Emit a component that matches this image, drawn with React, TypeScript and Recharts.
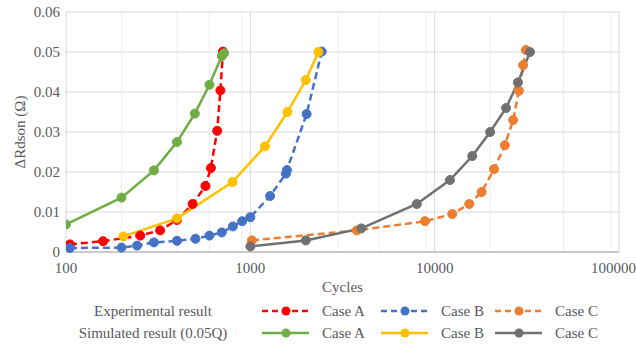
import React from "react";
import { CartesianGrid, Line, LineChart, XAxis, YAxis } from "recharts";

// cycles vs ΔRdson
const expA = [
  { x: 105, y: 0.0019 }, { x: 159, y: 0.0027 }, { x: 253, y: 0.0041 }, { x: 324, y: 0.0054 },
  { x: 400, y: 0.008 }, { x: 486, y: 0.012 }, { x: 571, y: 0.0165 }, { x: 611, y: 0.021 },
  { x: 661, y: 0.0303 }, { x: 688, y: 0.0404 }, { x: 710, y: 0.0501 },
];
const expB = [
  { x: 105, y: 0.001 }, { x: 200, y: 0.0011 }, { x: 243, y: 0.0016 }, { x: 300, y: 0.0024 },
  { x: 400, y: 0.0028 }, { x: 504, y: 0.0033 }, { x: 600, y: 0.0041 }, { x: 700, y: 0.0049 },
  { x: 804, y: 0.0064 }, { x: 903, y: 0.0077 }, { x: 1000, y: 0.0087 }, { x: 1280, y: 0.014 },
  { x: 1560, y: 0.0196 }, { x: 1580, y: 0.0205 }, { x: 2020, y: 0.0345 }, { x: 2440, y: 0.0501 },
];
const expC = [
  { x: 1020, y: 0.0029 }, { x: 3780, y: 0.0054 }, { x: 8860, y: 0.0077 }, { x: 12460, y: 0.0095 },
  { x: 15400, y: 0.012 }, { x: 17980, y: 0.015 }, { x: 21000, y: 0.0207 }, { x: 24040, y: 0.0267 },
  { x: 26670, y: 0.033 }, { x: 28640, y: 0.0403 }, { x: 30200, y: 0.0467 }, { x: 31260, y: 0.0505 },
];
const simA = [
  { x: 100, y: 0.0069 }, { x: 200, y: 0.0136 }, { x: 300, y: 0.0204 }, { x: 400, y: 0.0275 },
  { x: 500, y: 0.0346 }, { x: 600, y: 0.0418 }, { x: 700, y: 0.049 }, { x: 720, y: 0.0497 },
];
const simB = [
  { x: 205, y: 0.0039 }, { x: 400, y: 0.0084 }, { x: 800, y: 0.0175 }, { x: 1200, y: 0.0264 },
  { x: 1590, y: 0.035 }, { x: 2000, y: 0.043 }, { x: 2340, y: 0.05 },
];
const simC = [
  { x: 1000, y: 0.0014 }, { x: 2000, y: 0.0029 }, { x: 4000, y: 0.0059 }, { x: 8000, y: 0.012 },
  { x: 12100, y: 0.018 }, { x: 16000, y: 0.024 }, { x: 20000, y: 0.03 }, { x: 24400, y: 0.036 },
  { x: 28300, y: 0.0424 }, { x: 32900, y: 0.05 },
];

const xTicks = [100, 1000, 10000, 100000];
const xMinor = [200, 300, 400, 500, 600, 700, 800, 900, 2000, 3000, 4000, 5000, 6000, 7000, 8000, 9000,
  20000, 30000, 40000, 50000, 60000, 70000, 80000, 90000];
const yTicks = [0, 0.01, 0.02, 0.03, 0.04, 0.05, 0.06];

const caseNames = ["Case A", "Case B", "Case C"];
const rowLabels = ["Experimental result", "Simulated result (0.05Q)"];

const series = [
  { key: "expA", data: expA, color: "#ff0000", dashed: true },
  { key: "expB", data: expB, color: "#4472c4", dashed: true },
  { key: "expC", data: expC, color: "#ed7d31", dashed: true },
  { key: "simA", data: simA, color: "#70ad47", dashed: false },
  { key: "simB", data: simB, color: "#ffc000", dashed: false },
  { key: "simC", data: simC, color: "#707070", dashed: false },
];

const font = "'Liberation Serif', 'Times New Roman', serif";
const textColor = "#595959";
const dash = "7 4";

function LegendBlock() {
  const colX = [262, 381, 495];
  const rowY = [311, 333];
  return (
    <svg width={636} height={346} style={{ position: "absolute", left: 0, top: 0, pointerEvents: "none" }}>
      {rowLabels.map((label, r) => (
        <g key={label}>
          <text x={153} y={rowY[r] + 5} textAnchor="middle" fontSize={15} fill={textColor} fontFamily={font}>
            {label}
          </text>
          {series.slice(r * 3, r * 3 + 3).map((s, i) => (
            <g key={s.key}>
              <line x1={colX[i]} x2={colX[i] + 47} y1={rowY[r]} y2={rowY[r]} stroke={s.color}
                strokeWidth={2.5} strokeDasharray={s.dashed ? "6 4" : undefined} />
              <circle cx={colX[i] + 24} cy={rowY[r]} r={4.5} fill={s.color} />
              <text x={colX[i] + 60} y={rowY[r] + 5} fontSize={15} fill={textColor} fontFamily={font}>
                {caseNames[i]}
              </text>
            </g>
          ))}
        </g>
      ))}
    </svg>
  );
}

export default function App() {
  return (
    <div style={{ position: "absolute", left: 0, top: 0, width: 636, height: 346, background: "#fff" }}>
      <LineChart width={636} height={346} margin={{ top: 12, right: 17, left: 10, bottom: 54 }}
        style={{ fontFamily: font }}>
        <CartesianGrid horizontal={false} verticalValues={xMinor} stroke="#eeeeee" strokeWidth={1} />
        <CartesianGrid vertical={true} stroke="#d9d9d9" strokeWidth={1} />
        <XAxis type="number" dataKey="x" scale="log" domain={[100, 100000]} ticks={xTicks}
          allowDataOverflow height={40} tickLine={false} tickMargin={4}
          axisLine={{ stroke: "#bfbfbf", strokeWidth: 1.5 }}
          tick={{ fontSize: 15, fill: textColor, fontFamily: font }}
          label={{ value: "Cycles", position: "insideBottom", offset: 0, fontSize: 15, fill: textColor, fontFamily: font }} />
        <YAxis type="number" dataKey="y" domain={[0, 0.06]} ticks={yTicks} width={56}
          axisLine={false} tickLine={false} tickMargin={0}
          tick={{ fontSize: 15, fill: textColor, fontFamily: font }}
          label={{ value: "ΔRdson (Ω)", angle: -90, position: "center", dx: -18, fontSize: 15, fill: textColor, fontFamily: font }} />
        {series.map((s) => (
          <Line key={s.key} data={s.data} dataKey="y" type="linear" stroke={s.color} strokeWidth={2.5}
            strokeDasharray={s.dashed ? dash : undefined}
            dot={{ r: 4.5, fill: s.color, stroke: s.color, strokeWidth: 1, strokeDasharray: "none" }}
            activeDot={false} isAnimationActive={false} />
        ))}
      </LineChart>
      <LegendBlock />
    </div>
  );
}
